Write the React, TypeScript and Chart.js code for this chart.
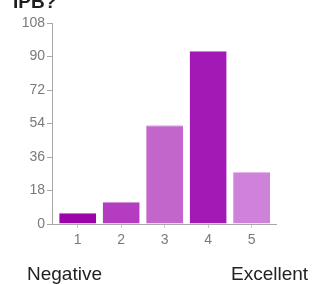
import React, { useEffect, useRef } from "react";
import { Chart, registerables } from "chart.js";

Chart.register(...registerables);

const categories = [1, 2, 3, 4, 5];
const values = [6, 12, 53, 93, 28];
const yTicks = [0, 18, 36, 54, 72, 90, 108];
const barColors = ["#9c03ab", "#b33cc0", "#c266cc", "#a319b5", "#cf82da"];
const barTopColors = ["#c47ccd", "#d39bd9", "#dcaae1", "#cc88d6", "#e5b7ea"];
const title = "IPB?";
const leftLabel = "Negative";
const rightLabel = "Excellent";

const FONT = '"Liberation Sans", Arial, sans-serif';

export default function App() {
  const ref = useRef<HTMLCanvasElement | null>(null);

  useEffect(() => {
    if (!ref.current) return;
    const chart = new Chart(ref.current, {
      type: "bar",
      data: {
        datasets: [
          {
            data: categories.map((c, i) => ({ x: c, y: values[i] })),
            backgroundColor: barColors,
            borderColor: barTopColors,
            borderWidth: { top: 1, left: 0, right: 0, bottom: 0 },
            borderSkipped: false,
            barPercentage: 0.85,
            categoryPercentage: 1,
          },
        ],
      },
      options: {
        animation: false,
        responsive: false,
        maintainAspectRatio: false,
        layout: { padding: { top: 23, right: 37, bottom: 0, left: 0 } },
        plugins: { legend: { display: false }, tooltip: { enabled: false }, title: { display: false } },
        scales: {
          x: {
            type: "linear",
            offset: false,
            min: 0.409,
            max: 5.56,
            afterBuildTicks: (axis: any) => {
              axis.ticks = categories.map((v) => ({ value: v }));
            },
            afterFit: (axis: any) => {
              axis.height = 60;
            },
            grid: {
              offset: false,
              drawOnChartArea: false,
              drawTicks: true,
              tickLength: 4,
              color: "#c8c8c8",
            },
            border: { color: "#a8a8a8", width: 1 },
            ticks: {
              autoSkip: false,
              maxRotation: 0,
              padding: 4,
              color: "#7a7a7a",
              font: { family: FONT, size: 14 },
              callback: (v: any) => String(v),
            },
          },
          y: {
            min: 0,
            max: 108,
            afterBuildTicks: (axis: any) => {
              axis.ticks = yTicks.map((v) => ({ value: v }));
            },
            afterFit: (axis: any) => {
              axis.width = 52;
            },
            grid: {
              drawOnChartArea: false,
              drawTicks: true,
              tickLength: 5,
              color: "#a8a8a8",
            },
            border: { color: "#a8a8a8", width: 1 },
            ticks: {
              padding: 2,
              color: "#7a7a7a",
              font: { family: FONT, size: 14 },
              callback: (v: any) => String(v),
            },
          },
        },
      },
    });
    return () => chart.destroy();
  }, []);

  return (
    <div
      style={{
        position: "fixed",
        left: 0,
        top: 0,
        width: 313,
        height: 284,
        overflow: "hidden",
        background: "#fff",
        fontFamily: FONT,
      }}
    >
      <canvas ref={ref} width={313} height={284} style={{ position: "absolute", left: 0, top: 0 }} />
      <div
        style={{
          position: "absolute",
          left: 13,
          top: -8,
          fontSize: 19,
          lineHeight: "19px",
          fontWeight: "bold",
          color: "#1e1e1e",
          whiteSpace: "nowrap",
        }}
      >
        {title}
      </div>
      <div
        style={{
          position: "absolute",
          left: 27,
          top: 264,
          fontSize: 19,
          lineHeight: "19px",
          color: "#222",
          whiteSpace: "nowrap",
        }}
      >
        {leftLabel}
      </div>
      <div
        style={{
          position: "absolute",
          left: 231,
          top: 264,
          fontSize: 19,
          lineHeight: "19px",
          color: "#222",
          whiteSpace: "nowrap",
        }}
      >
        {rightLabel}
      </div>
    </div>
  );
}
